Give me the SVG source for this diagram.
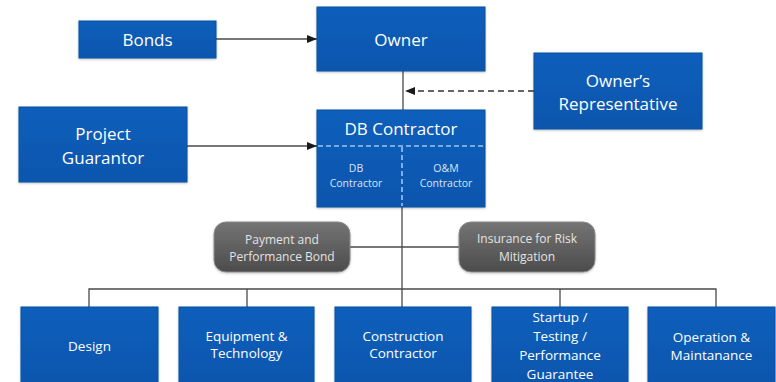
<svg xmlns="http://www.w3.org/2000/svg" width="776" height="382" viewBox="0 0 776 382">
  <defs>
    <linearGradient id="blueFill" x1="0" y1="0" x2="0" y2="1">
      <stop offset="0" stop-color="#0c5ebb"/>
      <stop offset="1" stop-color="#0956ad"/>
    </linearGradient>
    <linearGradient id="greyFill" x1="0" y1="0" x2="0" y2="1">
      <stop offset="0" stop-color="#747474"/>
      <stop offset="1" stop-color="#4c4c4c"/>
    </linearGradient>
    <filter id="soft" x="-10%" y="-10%" width="120%" height="125%">
      <feDropShadow dx="0" dy="1" stdDeviation="1.2" flood-color="#000" flood-opacity="0.25"/>
    </filter>
    <marker id="arrow" markerWidth="10" markerHeight="8" refX="10" refY="4" orient="auto" markerUnits="userSpaceOnUse">
      <path d="M0,0 L10,4 L0,8 Z" fill="#1a1a1a"/>
    </marker>
  </defs>
  <style>
    .box { fill: url(#blueFill); stroke: #0a4f9f; stroke-width: 1; filter: url(#soft); }
    .pill { fill: url(#greyFill); stroke: #8a8a8a; stroke-width: 1; filter: url(#soft); }
    .t { font-family: "Open Sans", "Liberation Sans", sans-serif; fill: #ffffff; text-anchor: middle; }
    .big { font-size: 17px; }
    .mid { font-size: 13.5px; }
    .small { font-size: 10.5px; fill: #d8e6f7; }
    .grey { font-size: 12px; fill: #e4e4e4; }
    .line { stroke: #4a4a4a; stroke-width: 1.3; fill: none; }
    .dash { stroke: #333; stroke-width: 1.3; fill: none; stroke-dasharray: 6 4; }
    .inner { stroke: #9cc3f0; stroke-width: 1.6; fill: none; stroke-dasharray: 5 3; }
  </style>

  <rect width="776" height="382" fill="#ffffff"/>

  <!-- connectors -->
  <g id="connectors">
    <line class="line" x1="216" y1="39" x2="317" y2="39" marker-end="url(#arrow)"/>
    <line class="line" x1="187" y1="146" x2="317" y2="146" marker-end="url(#arrow)"/>
    <line class="line" x1="403" y1="71" x2="403" y2="110"/>
    <line class="dash" x1="534" y1="91" x2="405" y2="91" marker-end="url(#arrow)"/>
    <line class="line" x1="402" y1="207" x2="402" y2="307"/>
    <line class="line" x1="350" y1="247" x2="459" y2="247"/>
    <polyline class="line" points="89,307 89,289 716,289 716,307"/>
    <line class="line" x1="247" y1="289" x2="247" y2="307"/>
    <line class="line" x1="560" y1="289" x2="560" y2="307"/>
  </g>

  <g id="bonds">
    <rect class="box" x="79" y="21" width="137" height="37"/>
    <text class="t big" x="147.5" y="46">Bonds</text>
  </g>

  <g id="owner">
    <rect class="box" x="317" y="7" width="168" height="64"/>
    <text class="t big" x="401" y="46">Owner</text>
  </g>

  <g id="owners-representative">
    <rect class="box" x="534" y="53" width="168" height="76"/>
    <text class="t big" x="618" y="87">Owner’s</text>
    <text class="t big" x="618" y="110">Representative</text>
  </g>

  <g id="project-guarantor">
    <rect class="box" x="19" y="107" width="168" height="75"/>
    <text class="t big" x="103" y="140">Project</text>
    <text class="t big" x="103" y="164">Guarantor</text>
  </g>

  <g id="db-contractor">
    <rect class="box" x="317" y="110" width="168" height="97"/>
    <text class="t big" x="401" y="135">DB Contractor</text>
    <line class="inner" x1="318" y1="146" x2="484" y2="146"/>
    <line class="inner" x1="402" y1="147" x2="402" y2="206"/>
    <text class="t small" x="356" y="172">DB</text>
    <text class="t small" x="356" y="187">Contractor</text>
    <text class="t small" x="446" y="172">O&amp;M</text>
    <text class="t small" x="446" y="187">Contractor</text>
  </g>

  <g id="payment-bond">
    <rect class="pill" x="214" y="222" width="136" height="50" rx="12"/>
    <text class="t grey" x="282" y="244">Payment and</text>
    <text class="t grey" x="282" y="261">Performance Bond</text>
  </g>

  <g id="insurance">
    <rect class="pill" x="459" y="222" width="136" height="50" rx="12"/>
    <text class="t grey" x="527" y="243">Insurance for Risk</text>
    <text class="t grey" x="527" y="261">Mitigation</text>
  </g>

  <g id="design">
    <rect class="box" x="21" y="307" width="137" height="80"/>
    <text class="t mid" x="89.5" y="351">Design</text>
  </g>

  <g id="equipment">
    <rect class="box" x="179" y="307" width="135" height="80"/>
    <text class="t mid" x="246.5" y="341">Equipment &amp;</text>
    <text class="t mid" x="246.5" y="358">Technology</text>
  </g>

  <g id="construction">
    <rect class="box" x="335" y="307" width="136" height="80"/>
    <text class="t mid" x="403" y="341">Construction</text>
    <text class="t mid" x="403" y="358">Contractor</text>
  </g>

  <g id="startup">
    <rect class="box" x="492" y="307" width="136" height="80"/>
    <text class="t mid" x="560" y="322">Startup /</text>
    <text class="t mid" x="560" y="341">Testing /</text>
    <text class="t mid" x="560" y="360">Performance</text>
    <text class="t mid" x="560" y="379">Guarantee</text>
  </g>

  <g id="operation">
    <rect class="box" x="648" y="307" width="127" height="80"/>
    <text class="t mid" x="711.5" y="342">Operation &amp;</text>
    <text class="t mid" x="711.5" y="360">Maintanance</text>
  </g>
</svg>
